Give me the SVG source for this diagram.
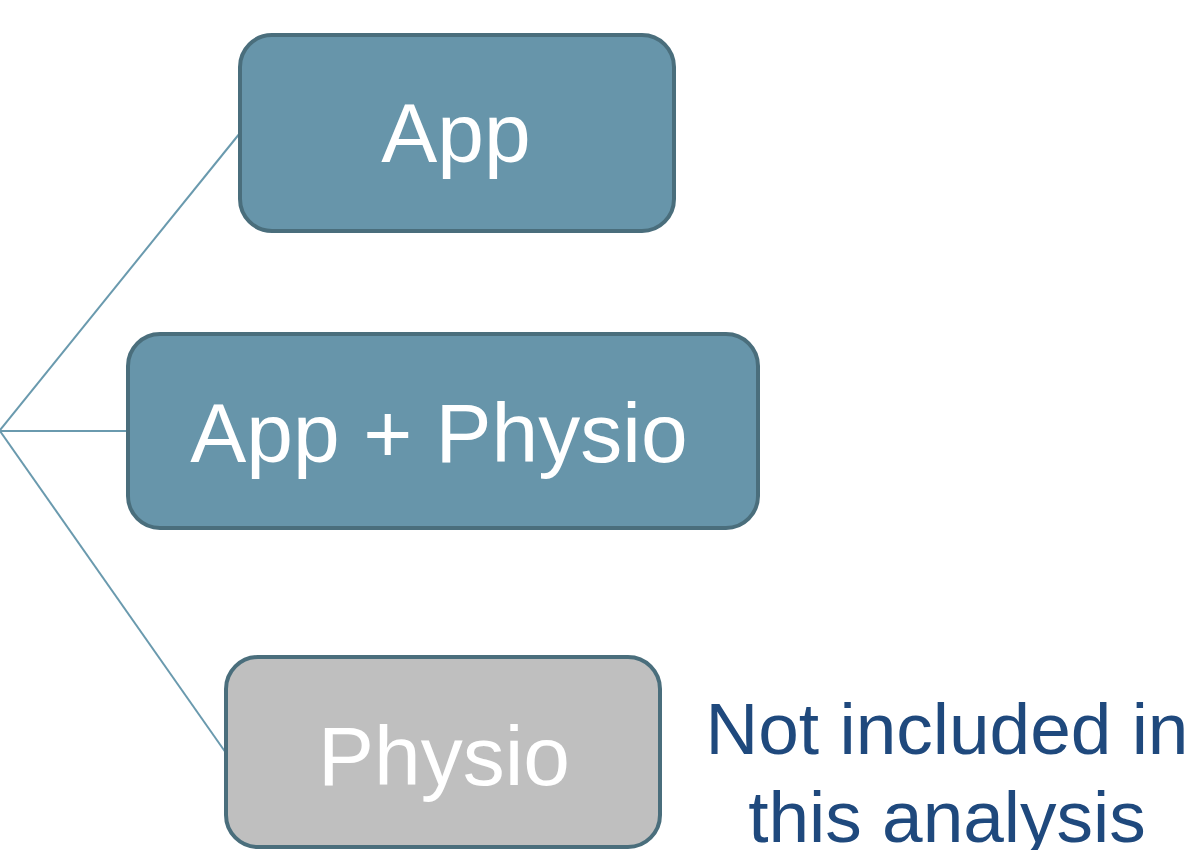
<svg xmlns="http://www.w3.org/2000/svg" width="1199" height="850" viewBox="0 0 1199 850">
<style>
.box{fill:#6795aa;stroke:#4a6e7c;stroke-width:4}
.gray{fill:#bfbfbf;stroke:#4a6e7c;stroke-width:4}
.lbl{font-family:"Liberation Sans",Arial,sans-serif;font-size:84px;fill:#ffffff;text-anchor:middle}
.note{font-family:"Liberation Sans",Arial,sans-serif;font-size:73px;fill:#1f497d;text-anchor:middle}
.conn{stroke:#6a9aae;stroke-width:2;fill:none}
</style>
<rect width="1199" height="850" fill="#ffffff"/>
<g id="connectors">
<line class="conn" x1="0" y1="430" x2="240" y2="133"/>
<line class="conn" x1="0" y1="431" x2="128" y2="431"/>
<line class="conn" x1="0" y1="431" x2="226" y2="753"/>
</g>
<g id="node-app">
<rect class="box" x="240" y="35" width="434" height="196" rx="32"/>
<text class="lbl" x="456" y="162">App</text>
</g>
<g id="node-app-physio">
<rect class="box" x="128" y="334" width="630" height="194" rx="32"/>
<text class="lbl" x="439" y="462">App + Physio</text>
</g>
<g id="node-physio">
<rect class="gray" x="226" y="657" width="434" height="190" rx="32"/>
<text class="lbl" x="444" y="785">Physio</text>
</g>
<g id="note">
<text class="note" x="947" y="754">Not included in</text>
<text class="note" x="947" y="842">this analysis</text>
</g>
</svg>
